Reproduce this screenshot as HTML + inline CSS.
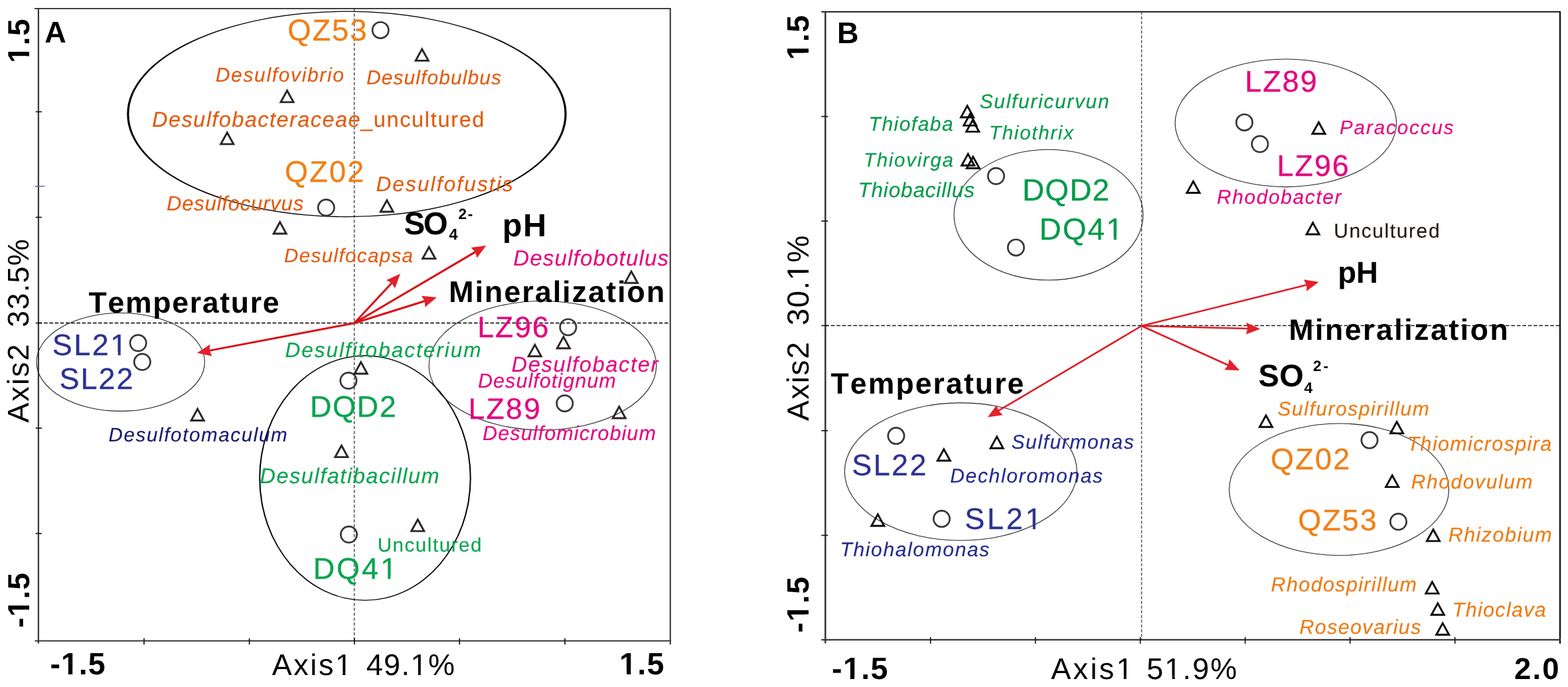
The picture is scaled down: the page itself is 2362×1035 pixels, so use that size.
<!DOCTYPE html>
<html lang="en">
<head>
<meta charset="utf-8">
<title>CCA ordination plots A and B</title>
<style>
html,body{margin:0;padding:0;background:#fff;}
body{width:2362px;height:1035px;overflow:hidden;}
svg{display:block;font-family:"Liberation Sans",sans-serif;font-kerning:none;text-rendering:geometricPrecision;}
svg text{white-space:pre;}
.r{font-weight:normal;font-style:normal;}
.i{font-style:italic;}
.b{font-weight:bold;}
</style>
</head>
<body>
<svg width="2362" height="1035" viewBox="0 0 2362 1035">
<defs>
<clipPath id="k1"><path d="M-3000-3000H6000V6000H-3000ZM-1.7 -5.9H7.6V1.5H-1.7ZM13.9 -5.9H22.7V1.5H13.9Z" clip-rule="evenodd"/></clipPath>
<clipPath id="k2"><path d="M-3000-3000H6000V6000H-3000ZM16.1 -5.9H25.4V1.5H16.1ZM31.7 -5.9H40.5V1.5H31.7Z" clip-rule="evenodd"/></clipPath>
<clipPath id="k3"><path d="M-3000-3000H6000V6000H-3000ZM93.4 1009.9H102.8V1017.3H93.4ZM109.2 1009.9H118.0V1017.3H109.2Z" clip-rule="evenodd"/></clipPath>
<clipPath id="k4"><path d="M-3000-3000H6000V6000H-3000ZM506.9 1012.1H516.3V1018.2H506.9ZM520.3 1012.1H529.3V1018.2H520.3ZM620.4 1012.1H629.8V1018.2H620.4ZM633.8 1012.1H642.8V1018.2H633.8Z" clip-rule="evenodd"/></clipPath>
<clipPath id="k5"><path d="M-3000-3000H6000V6000H-3000ZM934.5 1009.9H944.0V1017.3H934.5ZM950.3 1009.9H959.2V1017.3H950.3Z" clip-rule="evenodd"/></clipPath>
<clipPath id="k6"><path d="M-3000-3000H6000V6000H-3000ZM168.3 530.3H177.7V536.4H168.3ZM181.7 530.3H190.7V536.4H181.7Z" clip-rule="evenodd"/></clipPath>
<clipPath id="k7"><path d="M-3000-3000H6000V6000H-3000ZM574.9 867.5H584.3V873.6H574.9ZM588.3 867.5H597.3V873.6H588.3Z" clip-rule="evenodd"/></clipPath>
<clipPath id="k8"><path d="M-3000-3000H6000V6000H-3000ZM-1.8 -5.9H7.7V1.5H-1.8ZM14.0 -5.9H22.9V1.5H14.0Z" clip-rule="evenodd"/></clipPath>
<clipPath id="k9"><path d="M-3000-3000H6000V6000H-3000ZM213.6 -4.6H223.2V1.5H213.6ZM227.2 -4.6H236.4V1.5H227.2Z" clip-rule="evenodd"/></clipPath>
<clipPath id="k10"><path d="M-3000-3000H6000V6000H-3000ZM16.5 -5.9H25.9V1.5H16.5ZM32.3 -5.9H41.1V1.5H32.3Z" clip-rule="evenodd"/></clipPath>
<clipPath id="k11"><path d="M-3000-3000H6000V6000H-3000ZM1271.3 1017.4H1280.8V1024.8H1271.3ZM1287.1 1017.4H1296.0V1024.8H1287.1Z" clip-rule="evenodd"/></clipPath>
<clipPath id="k12"><path d="M-3000-3000H6000V6000H-3000ZM1683.4 1018.2H1692.8V1024.3H1683.4ZM1696.8 1018.2H1705.8V1024.3H1696.8ZM1756.3 1018.2H1765.7V1024.3H1756.3ZM1769.7 1018.2H1778.7V1024.3H1769.7Z" clip-rule="evenodd"/></clipPath>
<clipPath id="k13"><path d="M-3000-3000H6000V6000H-3000ZM1668.1 356.2H1677.7V362.3H1668.1ZM1681.8 356.2H1691.0V362.3H1681.8Z" clip-rule="evenodd"/></clipPath>
<clipPath id="k14"><path d="M-3000-3000H6000V6000H-3000ZM1546.4 792.7H1555.8V798.8H1546.4ZM1559.8 792.7H1568.8V798.8H1559.8Z" clip-rule="evenodd"/></clipPath>
</defs>
<rect width="2362" height="1035" fill="#fff"/>
<path d="M533.7 12.8L533.7 965.5" stroke="#6c6c6c" stroke-width="1.9" fill="none" stroke-dasharray="4.7 2.7"/>
<path d="M57.9 486.7L1007.7 486.7" stroke="#1a1a1a" stroke-width="1.7" fill="none" stroke-dasharray="5.6 2.6"/>
<path d="M51.9 12.8L1010.5 12.8" stroke="#2a2525" stroke-width="1.8" fill="none"/>
<path d="M1009.7 12.8L1009.7 971" stroke="#2a2525" stroke-width="1.9" fill="none"/>
<path d="M57.9 12.8L57.9 969.5" stroke="#3a3535" stroke-width="2.2" fill="none"/>
<path d="M52.4 965.5L1010.6 965.5" stroke="#3a3535" stroke-width="2.2" fill="none"/>
<path d="M53.7 168.4L62.9 168.4" stroke="#1c1414" stroke-width="1.7" fill="none"/>
<path d="M53.7 327.4L62.9 327.4" stroke="#1c1414" stroke-width="1.7" fill="none"/>
<path d="M53.7 486.6L62.9 486.6" stroke="#1c1414" stroke-width="1.7" fill="none"/>
<path d="M53.7 645L62.9 645" stroke="#1c1414" stroke-width="1.7" fill="none"/>
<path d="M53.7 803.7L62.9 803.7" stroke="#1c1414" stroke-width="1.7" fill="none"/>
<path d="M217 961.5L217 971" stroke="#1c1414" stroke-width="1.7" fill="none"/>
<path d="M375.6 961.5L375.6 971" stroke="#1c1414" stroke-width="1.7" fill="none"/>
<path d="M533.9 961.5L533.9 971" stroke="#1c1414" stroke-width="1.7" fill="none"/>
<path d="M692.2 961.5L692.2 971" stroke="#1c1414" stroke-width="1.7" fill="none"/>
<path d="M851 961.5L851 971" stroke="#1c1414" stroke-width="1.7" fill="none"/>
<path d="M52.4 280.6L67.6 280.6" stroke="#6e5f9c" stroke-width="1.5" fill="none"/>
<path d="M191.2 171.9a331.2 155.35 0 1 0 662.4 0a331.2 155.35 0 1 0 -662.4 0ZM194.4 171.9a328 154.05 0 1 0 656 0a328 154.05 0 1 0 -656 0Z" fill="#000" fill-rule="evenodd"/>
<ellipse cx="181.65" cy="545.45" rx="126.65" ry="73.95" fill="none" stroke="#222" stroke-width="1.1"/>
<path d="M390.2 720.1a159.75 184.9 0 1 0 319.5 0a159.75 184.9 0 1 0 -319.5 0ZM392.2 720.1a157.75 183.7 0 1 0 315.5 0a157.75 183.7 0 1 0 -315.5 0Z" fill="#000" fill-rule="evenodd"/>
<ellipse cx="817.4" cy="550.65" rx="171.3" ry="97.15" fill="none" stroke="#222" stroke-width="1.1"/>
<path d="M533.8 486.8L590.7 425.8" stroke="#da0e16" stroke-width="3" fill="none"/>
<path d="M603 412.6L595.0 434.2L590.0 426.5L582.0 422.0Z" fill="#e2202a"/>
<path d="M533.8 486.8L716.8 379.1" stroke="#da0e16" stroke-width="3" fill="none"/>
<path d="M732.3 370L718.5 388.4L715.9 379.6L709.5 373.1Z" fill="#e2202a"/>
<path d="M533.8 486.8L640.7 453.3" stroke="#da0e16" stroke-width="3" fill="none"/>
<path d="M657.9 447.9L640.3 462.7L639.8 453.6L635.0 445.7Z" fill="#e2202a"/>
<path d="M533.8 486.8L314.6 528.4" stroke="#da0e16" stroke-width="3" fill="none"/>
<path d="M296.9 531.8L316.1 519.1L315.6 528.3L319.4 536.6Z" fill="#e2202a"/>
<circle cx="573.2" cy="45.4" r="12.15" fill="none" stroke="#363636" stroke-width="2.7"/>
<circle cx="491.3" cy="312.8" r="12.15" fill="none" stroke="#363636" stroke-width="2.7"/>
<circle cx="208.1" cy="516.8" r="12.15" fill="none" stroke="#363636" stroke-width="2.7"/>
<circle cx="214.3" cy="545.3" r="12.15" fill="none" stroke="#363636" stroke-width="2.7"/>
<circle cx="524.9" cy="573.5" r="12.15" fill="none" stroke="#363636" stroke-width="2.7"/>
<circle cx="525.5" cy="805.3" r="12.15" fill="none" stroke="#363636" stroke-width="2.7"/>
<circle cx="855.8" cy="492.9" r="12.15" fill="none" stroke="#363636" stroke-width="2.7"/>
<circle cx="850.7" cy="607.7" r="12.15" fill="none" stroke="#363636" stroke-width="2.7"/>
<path d="M635.70 74.01L645.25 91.35H626.15Z" fill="none" stroke="#2a2424" stroke-width="2.9" stroke-linejoin="miter" stroke-miterlimit="10"/>
<path d="M432.50 136.51L442.05 153.85H422.95Z" fill="none" stroke="#2a2424" stroke-width="2.9" stroke-linejoin="miter" stroke-miterlimit="10"/>
<path d="M342.20 199.81L351.75 217.15H332.65Z" fill="none" stroke="#2a2424" stroke-width="2.9" stroke-linejoin="miter" stroke-miterlimit="10"/>
<path d="M582.80 301.71L592.35 319.05H573.25Z" fill="none" stroke="#2a2424" stroke-width="2.9" stroke-linejoin="miter" stroke-miterlimit="10"/>
<path d="M421.70 334.61L431.25 351.95H412.15Z" fill="none" stroke="#2a2424" stroke-width="2.9" stroke-linejoin="miter" stroke-miterlimit="10"/>
<path d="M646.20 372.31L655.75 389.65H636.65Z" fill="none" stroke="#2a2424" stroke-width="2.9" stroke-linejoin="miter" stroke-miterlimit="10"/>
<path d="M951.00 408.91L960.55 426.25H941.45Z" fill="none" stroke="#2a2424" stroke-width="2.9" stroke-linejoin="miter" stroke-miterlimit="10"/>
<path d="M848.80 507.41L858.35 524.75H839.25Z" fill="none" stroke="#2a2424" stroke-width="2.9" stroke-linejoin="miter" stroke-miterlimit="10"/>
<path d="M805.70 519.41L815.25 536.75H796.15Z" fill="none" stroke="#2a2424" stroke-width="2.9" stroke-linejoin="miter" stroke-miterlimit="10"/>
<path d="M543.70 545.61L553.25 562.95H534.15Z" fill="none" stroke="#2a2424" stroke-width="2.9" stroke-linejoin="miter" stroke-miterlimit="10"/>
<path d="M297.60 616.11L307.15 633.45H288.05Z" fill="none" stroke="#2a2424" stroke-width="2.9" stroke-linejoin="miter" stroke-miterlimit="10"/>
<path d="M932.70 612.61L942.25 629.95H923.15Z" fill="none" stroke="#2a2424" stroke-width="2.9" stroke-linejoin="miter" stroke-miterlimit="10"/>
<path d="M514.40 671.31L523.95 688.65H504.85Z" fill="none" stroke="#2a2424" stroke-width="2.9" stroke-linejoin="miter" stroke-miterlimit="10"/>
<path d="M629.30 782.81L638.85 800.15H619.75Z" fill="none" stroke="#2a2424" stroke-width="2.9" stroke-linejoin="miter" stroke-miterlimit="10"/>
<text x="67.3" y="64.3" font-size="45" fill="#000" class="b">A</text>
<text transform="translate(43.6 92) rotate(-90)" y="0" font-size="46" fill="#000" class="b" clip-path="url(#k1)"><tspan x="-3.1" letter-spacing="1.34">1.5</tspan></text>
<text transform="translate(43.2 636.6) rotate(-90)" y="0" font-size="45" fill="#000" class="r"><tspan x="-0.1" letter-spacing="2.03">Axis2</tspan> <tspan x="143.7" letter-spacing="1.28">33.5%</tspan></text>
<text transform="translate(43.6 944) rotate(-90)" y="0" font-size="46" fill="#000" class="b" clip-path="url(#k2)"><tspan x="-1.8" letter-spacing="1.17">-1.5</tspan></text>
<text y="1015.8" font-size="46.5" fill="#000" class="b" clip-path="url(#k3)"><tspan x="75.5" letter-spacing="0.99">-1.5</tspan></text>
<text y="1016.7" font-size="45" fill="#000" class="r" clip-path="url(#k4)"><tspan x="409.7" letter-spacing="2.57">Axis1</tspan> <tspan x="551.7" letter-spacing="1.41">49.1%</tspan></text>
<text y="1015.8" font-size="46.5" fill="#000" class="b" clip-path="url(#k5)"><tspan x="933.1" letter-spacing="1.27">1.5</tspan></text>
<text x="433.3" y="61.2" font-size="45.5" fill="#f08016" stroke="#f08016" stroke-width="0.3" class="r" letter-spacing="1.79">QZ53</text>
<text x="428.9" y="274.2" font-size="45" fill="#f08016" stroke="#f08016" stroke-width="0.3" class="r" letter-spacing="2.28">QZ02</text>
<text x="324.8" y="123.4" font-size="30" fill="#e35a0e" stroke="#e35a0e" stroke-width="0.15" class="i" letter-spacing="1.65">Desulfovibrio</text>
<text x="552.0" y="126.8" font-size="30" fill="#e35a0e" stroke="#e35a0e" stroke-width="0.15" class="i" letter-spacing="1.08">Desulfobulbus</text>
<text y="191.1" font-size="32.5" fill="#e35a0e" stroke="#e35a0e" stroke-width="0.15"><tspan x="229.0" class="i" letter-spacing="1.44">Desulfobacteraceae</tspan><tspan x="543.0" class="r" letter-spacing="1.66">_uncultured</tspan></text>
<text x="566.4" y="287.5" font-size="31.5" fill="#e35a0e" stroke="#e35a0e" stroke-width="0.15" class="i" letter-spacing="2.16">Desulfofustis</text>
<text x="251.0" y="316.9" font-size="31" fill="#e35a0e" stroke="#e35a0e" stroke-width="0.15" class="i" letter-spacing="0.81">Desulfocurvus</text>
<text x="428.1" y="395.3" font-size="29.5" fill="#e35a0e" stroke="#e35a0e" stroke-width="0.15" class="i" letter-spacing="1.38">Desulfocapsa</text>
<text y="353.3" font-size="47.5" fill="#000" class="b"><tspan x="608.6" letter-spacing="-2.57">SO</tspan><tspan x="676.5" y="360.8" font-size="23.5">4</tspan><tspan x="690.6" y="330" font-size="22.5" letter-spacing="1.67">2-</tspan></text>
<text x="756.8" y="356.1" font-size="48.5" fill="#000" class="b" letter-spacing="1.61">pH</text>
<text x="676.0" y="455.4" font-size="45" fill="#000" class="b" letter-spacing="1.94">Mineralization</text>
<text x="133.5" y="470.5" font-size="44.5" fill="#000" class="b" letter-spacing="1.75">Temperature</text>
<text x="773.3" y="400.1" font-size="33" fill="#e4037f" stroke="#e4037f" stroke-width="0.15" class="i" letter-spacing="1.19">Desulfobotulus</text>
<text x="770.6" y="560" font-size="32.5" fill="#e4037f" stroke="#e4037f" stroke-width="0.15" class="i" letter-spacing="1.68">Desulfobacter</text>
<text x="720.0" y="583.7" font-size="30.5" fill="#e4037f" stroke="#e4037f" stroke-width="0.15" class="i" letter-spacing="1.06">Desulfotignum</text>
<text x="727.1" y="663.2" font-size="30.5" fill="#e4037f" stroke="#e4037f" stroke-width="0.15" class="i" letter-spacing="1.11">Desulfomicrobium</text>
<text x="719.3" y="507.6" font-size="44.5" fill="#e4037f" stroke="#e4037f" stroke-width="0.3" class="r" letter-spacing="1.96">LZ96</text>
<text x="705.6" y="631" font-size="44.5" fill="#e4037f" stroke="#e4037f" stroke-width="0.3" class="r" letter-spacing="2.28">LZ89</text>
<text x="78.7" y="534.9" font-size="45" fill="#2d3192" stroke="#2d3192" stroke-width="0.3" class="r" letter-spacing="2.53" clip-path="url(#k6)">SL21</text>
<text x="89.5" y="586.4" font-size="45" fill="#2d3192" stroke="#2d3192" stroke-width="0.3" class="r" letter-spacing="2.00">SL22</text>
<text x="163.6" y="665.4" font-size="29.5" fill="#17196f" stroke="#17196f" stroke-width="0.15" class="i" letter-spacing="1.65">Desulfotomaculum</text>
<text x="429.4" y="537.6" font-size="31.5" fill="#07a44e" stroke="#07a44e" stroke-width="0.15" class="i" letter-spacing="2.02">Desulfitobacterium</text>
<text x="466.9" y="628.1" font-size="45" fill="#07a44e" stroke="#07a44e" stroke-width="0.3" class="r" letter-spacing="1.58">DQD2</text>
<text x="391.4" y="728.1" font-size="32.5" fill="#07a44e" stroke="#07a44e" stroke-width="0.15" class="i" letter-spacing="1.54">Desulfatibacillum</text>
<text x="568.7" y="830.6" font-size="29.5" fill="#07a44e" stroke="#07a44e" stroke-width="0.15" class="r" letter-spacing="1.56">Uncultured</text>
<text x="471.7" y="872.1" font-size="45" fill="#07a44e" stroke="#07a44e" stroke-width="0.3" class="r" letter-spacing="2.92" clip-path="url(#k7)">DQ41</text>
<path d="M1719.6 17.7L1719.6 963.8" stroke="#555" stroke-width="1.5" fill="none" stroke-dasharray="4.7 2.4"/>
<path d="M1243.3 490.5L2350 490.5" stroke="#1a1a1a" stroke-width="1.4" fill="none" stroke-dasharray="5.6 2.8"/>
<path d="M1237.3 17.7L2350.9 17.7" stroke="#1a1515" stroke-width="2.1" fill="none"/>
<path d="M2350 17.7L2350 969.8" stroke="#0d0d0d" stroke-width="2.3" fill="none"/>
<path d="M1243.3 17.7L1243.3 969.3" stroke="#3a3535" stroke-width="2.5" fill="none"/>
<path d="M1237.3 963.8L2350.9 963.8" stroke="#3a3535" stroke-width="2.2" fill="none"/>
<path d="M1237.3 175.5L1247.3 175.5" stroke="#1c1414" stroke-width="1.7" fill="none"/>
<path d="M1237.3 333L1247.3 333" stroke="#1c1414" stroke-width="1.7" fill="none"/>
<path d="M1237.3 490.5L1247.3 490.5" stroke="#1c1414" stroke-width="1.7" fill="none"/>
<path d="M1237.3 648.8L1247.3 648.8" stroke="#1c1414" stroke-width="1.7" fill="none"/>
<path d="M1237.3 806.5L1247.3 806.5" stroke="#1c1414" stroke-width="1.7" fill="none"/>
<path d="M1401.7 959.8L1401.7 969.8" stroke="#1c1414" stroke-width="1.7" fill="none"/>
<path d="M1559.7 959.8L1559.7 969.8" stroke="#1c1414" stroke-width="1.7" fill="none"/>
<path d="M1717.7 959.8L1717.7 969.8" stroke="#1c1414" stroke-width="1.7" fill="none"/>
<path d="M1875.7 959.8L1875.7 969.8" stroke="#1c1414" stroke-width="1.7" fill="none"/>
<path d="M2033.7 959.8L2033.7 969.8" stroke="#1c1414" stroke-width="1.7" fill="none"/>
<path d="M2191.7 959.8L2191.7 969.8" stroke="#1c1414" stroke-width="1.7" fill="none"/>
<ellipse cx="1579.5" cy="323.65" rx="142.5" ry="98.35" fill="none" stroke="#222" stroke-width="1.1"/>
<ellipse cx="1936.9" cy="185.3" rx="166.7" ry="96.3" fill="none" stroke="#222" stroke-width="1.1"/>
<ellipse cx="1447.3" cy="710.55" rx="175" ry="103.65" fill="none" stroke="#222" stroke-width="1.1"/>
<ellipse cx="2017.1" cy="737.4" rx="165.4" ry="99.4" fill="none" stroke="#222" stroke-width="1.1"/>
<path d="M1719.6 491L1969.1 429.1" stroke="#df1c26" stroke-width="2.6" fill="none"/>
<path d="M1986.6 424.8L1968.2 438.5L1968.2 429.4L1963.9 421.3Z" fill="#e2202a"/>
<path d="M1719.6 491L1880.4 495.0" stroke="#df1c26" stroke-width="2.6" fill="none"/>
<path d="M1898.4 495.4L1877.0 503.8L1879.4 494.9L1877.4 486.0Z" fill="#e2202a"/>
<path d="M1719.6 491L1850.9 550.5" stroke="#df1c26" stroke-width="2.6" fill="none"/>
<path d="M1867.3 557.9L1844.3 557.3L1850.0 550.1L1851.7 541.0Z" fill="#e2202a"/>
<path d="M1719.6 491L1503.3 619.2" stroke="#df1c26" stroke-width="2.6" fill="none"/>
<path d="M1487.8 628.4L1501.5 609.9L1504.1 618.7L1510.6 625.2Z" fill="#e2202a"/>
<circle cx="1874.5" cy="184.4" r="12.15" fill="none" stroke="#363636" stroke-width="2.7"/>
<circle cx="1897.9" cy="217" r="12.15" fill="none" stroke="#363636" stroke-width="2.7"/>
<circle cx="1500.4" cy="265.3" r="12.15" fill="none" stroke="#363636" stroke-width="2.7"/>
<circle cx="1530.4" cy="372.9" r="12.15" fill="none" stroke="#363636" stroke-width="2.7"/>
<circle cx="1349.9" cy="656.6" r="12.15" fill="none" stroke="#363636" stroke-width="2.7"/>
<circle cx="1418.5" cy="781.6" r="12.15" fill="none" stroke="#363636" stroke-width="2.7"/>
<circle cx="2063" cy="663.1" r="12.15" fill="none" stroke="#363636" stroke-width="2.7"/>
<circle cx="2106.5" cy="786" r="12.15" fill="none" stroke="#363636" stroke-width="2.7"/>
<path d="M1457.10 159.41L1466.65 176.75H1447.55Z" fill="none" stroke="#0c0c0c" stroke-width="2.9" stroke-linejoin="miter" stroke-miterlimit="10"/>
<path d="M1461.30 171.81L1470.85 189.15H1451.75Z" fill="none" stroke="#0c0c0c" stroke-width="2.9" stroke-linejoin="miter" stroke-miterlimit="10"/>
<path d="M1465.20 181.01L1474.75 198.35H1455.65Z" fill="none" stroke="#0c0c0c" stroke-width="2.9" stroke-linejoin="miter" stroke-miterlimit="10"/>
<path d="M1458.20 231.91L1467.75 249.25H1448.65Z" fill="none" stroke="#0c0c0c" stroke-width="2.9" stroke-linejoin="miter" stroke-miterlimit="10"/>
<path d="M1465.80 236.21L1475.35 253.55H1456.25Z" fill="none" stroke="#0c0c0c" stroke-width="2.9" stroke-linejoin="miter" stroke-miterlimit="10"/>
<path d="M1986.50 184.21L1996.05 201.55H1976.95Z" fill="none" stroke="#0c0c0c" stroke-width="2.9" stroke-linejoin="miter" stroke-miterlimit="10"/>
<path d="M1797.50 273.21L1807.05 290.55H1787.95Z" fill="none" stroke="#0c0c0c" stroke-width="2.9" stroke-linejoin="miter" stroke-miterlimit="10"/>
<path d="M1977.70 335.61L1987.25 352.95H1968.15Z" fill="none" stroke="#0c0c0c" stroke-width="2.9" stroke-linejoin="miter" stroke-miterlimit="10"/>
<path d="M1907.00 625.91L1916.55 643.25H1897.45Z" fill="none" stroke="#0c0c0c" stroke-width="2.9" stroke-linejoin="miter" stroke-miterlimit="10"/>
<path d="M2104.10 635.51L2113.65 652.85H2094.55Z" fill="none" stroke="#0c0c0c" stroke-width="2.9" stroke-linejoin="miter" stroke-miterlimit="10"/>
<path d="M2097.20 716.31L2106.75 733.65H2087.65Z" fill="none" stroke="#0c0c0c" stroke-width="2.9" stroke-linejoin="miter" stroke-miterlimit="10"/>
<path d="M2159.00 797.81L2168.55 815.15H2149.45Z" fill="none" stroke="#0c0c0c" stroke-width="2.9" stroke-linejoin="miter" stroke-miterlimit="10"/>
<path d="M2157.40 876.81L2166.95 894.15H2147.85Z" fill="none" stroke="#0c0c0c" stroke-width="2.9" stroke-linejoin="miter" stroke-miterlimit="10"/>
<path d="M2165.80 908.91L2175.35 926.25H2156.25Z" fill="none" stroke="#0c0c0c" stroke-width="2.9" stroke-linejoin="miter" stroke-miterlimit="10"/>
<path d="M2173.20 938.91L2182.75 956.25H2163.65Z" fill="none" stroke="#0c0c0c" stroke-width="2.9" stroke-linejoin="miter" stroke-miterlimit="10"/>
<path d="M1501.60 657.91L1511.15 675.25H1492.05Z" fill="none" stroke="#0c0c0c" stroke-width="2.9" stroke-linejoin="miter" stroke-miterlimit="10"/>
<path d="M1421.80 676.71L1431.35 694.05H1412.25Z" fill="none" stroke="#0c0c0c" stroke-width="2.9" stroke-linejoin="miter" stroke-miterlimit="10"/>
<path d="M1322.30 774.91L1331.85 792.25H1312.75Z" fill="none" stroke="#0c0c0c" stroke-width="2.9" stroke-linejoin="miter" stroke-miterlimit="10"/>
<text x="1261.0" y="65" font-size="45" fill="#000" class="b">B</text>
<text transform="translate(1218.3 87.2) rotate(-90)" y="0" font-size="46.5" fill="#000" class="b" clip-path="url(#k8)"><tspan x="-3.2" letter-spacing="1.37">1.5</tspan></text>
<text transform="translate(1218.2 634) rotate(-90)" y="0" font-size="46" fill="#000" class="r" clip-path="url(#k9)"><tspan x="-0.1" letter-spacing="1.58">Axis2</tspan> <tspan x="143.7" letter-spacing="1.32">30.1%</tspan></text>
<text transform="translate(1218.3 951.5) rotate(-90)" y="0" font-size="46.5" fill="#000" class="b" clip-path="url(#k10)"><tspan x="-1.8" letter-spacing="1.39">-1.5</tspan></text>
<text y="1023.3" font-size="46.5" fill="#000" class="b" clip-path="url(#k11)"><tspan x="1253.0" letter-spacing="1.43">-1.5</tspan></text>
<text y="1022.8" font-size="45" fill="#000" class="r" clip-path="url(#k12)"><tspan x="1583.3" letter-spacing="3.30">Axis1</tspan> <tspan x="1727.2" letter-spacing="2.15">51.9%</tspan></text>
<text y="1023" font-size="45.5" fill="#000" class="b"><tspan x="2281.0" letter-spacing="2.10">2.0</tspan></text>
<text x="1475.7" y="163.2" font-size="30" fill="#029a4a" stroke="#029a4a" stroke-width="0.15" class="i" letter-spacing="1.65">Sulfuricurvun</text>
<text x="1308.6" y="197.1" font-size="30" fill="#029a4a" stroke="#029a4a" stroke-width="0.15" class="i" letter-spacing="1.47">Thiofaba</text>
<text x="1490.0" y="209.9" font-size="29.5" fill="#029a4a" stroke="#029a4a" stroke-width="0.15" class="i" letter-spacing="1.72">Thiothrix</text>
<text x="1301.0" y="250.9" font-size="29.5" fill="#029a4a" stroke="#029a4a" stroke-width="0.15" class="i" letter-spacing="1.70">Thiovirga</text>
<text x="1292.4" y="296.9" font-size="31.5" fill="#029a4a" stroke="#029a4a" stroke-width="0.15" class="i" letter-spacing="0.84">Thiobacillus</text>
<text x="1539.9" y="301.8" font-size="46" fill="#029a4a" stroke="#029a4a" stroke-width="0.3" class="r" letter-spacing="1.16">DQD2</text>
<text x="1565.5" y="360.8" font-size="46" fill="#029a4a" stroke="#029a4a" stroke-width="0.3" class="r" letter-spacing="2.02" clip-path="url(#k13)">DQ41</text>
<text x="1875.2" y="137.9" font-size="45" fill="#e4037f" stroke="#e4037f" stroke-width="0.3" class="r" letter-spacing="2.02">LZ89</text>
<text x="1923.6" y="264.6" font-size="45" fill="#e4037f" stroke="#e4037f" stroke-width="0.3" class="r" letter-spacing="1.90">LZ96</text>
<text x="2018.0" y="201.5" font-size="29.5" fill="#e4037f" stroke="#e4037f" stroke-width="0.15" class="i" letter-spacing="1.94">Paracoccus</text>
<text x="1833.1" y="307" font-size="30" fill="#e4037f" stroke="#e4037f" stroke-width="0.15" class="i" letter-spacing="1.57">Rhodobacter</text>
<text x="2009.2" y="358.3" font-size="30" fill="#231815" stroke="#231815" stroke-width="0.15" class="r" letter-spacing="1.59">Uncultured</text>
<text x="2015.2" y="426.2" font-size="45.5" fill="#000" class="b" letter-spacing="0.01">pH</text>
<text x="1941.4" y="511.9" font-size="44.5" fill="#000" class="b" letter-spacing="2.58">Mineralization</text>
<text y="582.3" font-size="47" fill="#000" class="b"><tspan x="1895.6" letter-spacing="0.42">SO</tspan><tspan x="1964.6" y="592" font-size="23">4</tspan><tspan x="1978.1" y="559.4" font-size="22.5" letter-spacing="2.77">2-</tspan></text>
<text x="1251.5" y="593" font-size="44.5" fill="#000" class="b" letter-spacing="2.13">Temperature</text>
<text x="1283.3" y="716.1" font-size="45" fill="#2d3192" stroke="#2d3192" stroke-width="0.3" class="r" letter-spacing="2.34">SL22</text>
<text x="1453.2" y="797.3" font-size="45" fill="#2d3192" stroke="#2d3192" stroke-width="0.3" class="r" letter-spacing="3.73" clip-path="url(#k14)">SL21</text>
<text x="1523.4" y="676.2" font-size="30" fill="#252a8e" stroke="#252a8e" stroke-width="0.15" class="i" letter-spacing="1.61">Sulfurmonas</text>
<text x="1431.3" y="727" font-size="30" fill="#252a8e" stroke="#252a8e" stroke-width="0.15" class="i" letter-spacing="1.64">Dechloromonas</text>
<text x="1265.5" y="837.9" font-size="30" fill="#252a8e" stroke="#252a8e" stroke-width="0.15" class="i" letter-spacing="1.64">Thiohalomonas</text>
<text x="1924.4" y="625.6" font-size="30" fill="#ee7a12" stroke="#ee7a12" stroke-width="0.15" class="i" letter-spacing="1.55">Sulfurospirillum</text>
<text x="2119.6" y="678.9" font-size="30.5" fill="#ee7a12" stroke="#ee7a12" stroke-width="0.15" class="i" letter-spacing="1.35">Thiomicrospira</text>
<text x="2125.7" y="736.1" font-size="30" fill="#ee7a12" stroke="#ee7a12" stroke-width="0.15" class="i" letter-spacing="1.60">Rhodovulum</text>
<text x="2181.7" y="816.2" font-size="30.5" fill="#ee7a12" stroke="#ee7a12" stroke-width="0.15" class="i" letter-spacing="1.47">Rhizobium</text>
<text x="1914.6" y="891.4" font-size="30.5" fill="#ee7a12" stroke="#ee7a12" stroke-width="0.15" class="i" letter-spacing="1.36">Rhodospirillum</text>
<text x="2187.8" y="928.7" font-size="30.5" fill="#ee7a12" stroke="#ee7a12" stroke-width="0.15" class="i" letter-spacing="1.31">Thioclava</text>
<text x="1957.5" y="955.2" font-size="30.5" fill="#ee7a12" stroke="#ee7a12" stroke-width="0.15" class="i" letter-spacing="1.34">Roseovarius</text>
<text x="1913.9" y="706.8" font-size="45" fill="#f08016" stroke="#f08016" stroke-width="0.3" class="r" letter-spacing="2.28">QZ02</text>
<text x="1955.3" y="798.8" font-size="45" fill="#f08016" stroke="#f08016" stroke-width="0.3" class="r" letter-spacing="1.99">QZ53</text>
</svg>
</body>
</html>
